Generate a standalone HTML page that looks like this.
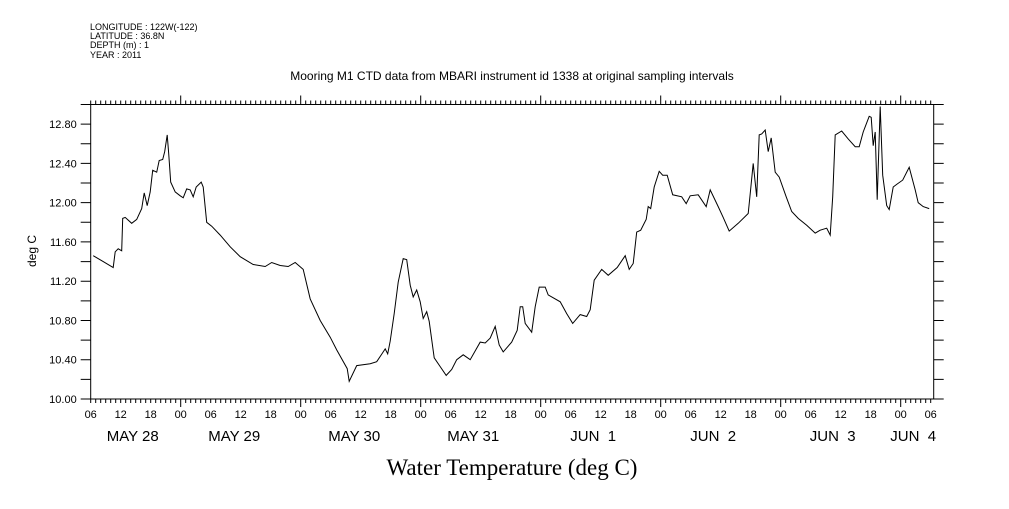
<!DOCTYPE html>
<html><head><meta charset="utf-8"><style>
body{margin:0;background:#fff;}
svg text{font-family:"Liberation Sans",sans-serif;fill:#000;white-space:pre;}
</style></head><body>
<svg id="chart" width="1009" height="504" viewBox="0 0 1009 504" xmlns="http://www.w3.org/2000/svg">
<g font-size="9">
<text x="90" y="30">LONGITUDE : 122W(-122)</text>
<text x="90" y="39">LATITUDE : 36.8N</text>
<text x="90" y="48">DEPTH (m) : 1</text>
<text x="90" y="58">YEAR : 2011</text>
</g>
<text x="512" y="80" text-anchor="middle" font-size="12">Mooring M1 CTD data from MBARI instrument id 1338 at original sampling intervals</text>
<text x="0" y="0" transform="translate(36,251) rotate(-90)" text-anchor="middle" font-size="12">deg C</text>
<text x="512" y="475" text-anchor="middle" font-size="23" style="font-family:'Liberation Serif',serif">Water Temperature (deg C)</text>
<g id="axes"></g>
<path id="line" fill="none" stroke="#000" stroke-width="1" stroke-linejoin="miter"/>
</svg>
<script>
const hours=[0.5,2.5,4.5,4.9,5.5,6.2,6.4,6.9,8.2,9.2,10.2,10.7,11.3,11.9,12.4,13.2,13.7,14.4,14.8,15.3,15.6,16.0,16.9,17.9,18.5,19.2,19.9,20.5,21.1,22.1,22.5,23.2,24.2,25.9,27.9,29.9,32.5,34.9,36.2,37.9,39.5,40.9,42.5,43.9,45.9,47.9,49.2,51.3,51.7,53.2,55.9,57.2,58.9,59.4,59.9,60.7,61.5,62.5,63.2,63.9,64.5,65.2,65.9,66.5,67.2,67.7,68.7,69.9,71.1,72.2,73.2,74.5,75.9,77.9,78.9,79.9,80.9,81.7,82.5,84.2,85.3,85.9,86.4,86.9,88.2,88.9,89.7,90.9,91.5,93.9,95.2,96.4,97.9,99.2,99.9,100.7,102.2,103.5,105.3,106.9,107.7,108.5,109.2,110.0,111.1,111.5,112.0,112.7,113.7,114.4,115.3,116.4,118.2,119.1,119.9,121.5,123.1,123.9,125.5,126.5,127.7,129.5,131.5,131.9,132.5,133.2,133.7,134.2,134.9,135.5,136.1,136.9,137.7,139.1,140.2,141.5,143.2,144.9,145.9,147.2,147.9,148.4,148.9,150.2,151.5,152.9,153.7,154.5,155.7,156.1,156.5,156.9,157.3,157.9,158.4,159.2,159.7,160.5,161.3,162.4,163.7,164.9,165.5,166.5,167.7];
const temps=[11.46,11.40,11.34,11.50,11.53,11.51,11.84,11.85,11.79,11.83,11.94,12.10,11.97,12.11,12.33,12.31,12.43,12.44,12.52,12.69,12.50,12.21,12.11,12.07,12.05,12.14,12.13,12.06,12.16,12.21,12.16,11.80,11.76,11.67,11.55,11.45,11.37,11.35,11.39,11.36,11.35,11.39,11.32,11.02,10.80,10.63,10.50,10.31,10.18,10.34,10.36,10.38,10.51,10.46,10.59,10.87,11.19,11.43,11.42,11.16,11.04,11.11,10.99,10.82,10.89,10.79,10.42,10.33,10.24,10.30,10.40,10.45,10.40,10.58,10.57,10.62,10.74,10.55,10.48,10.58,10.70,10.94,10.94,10.77,10.68,10.94,11.14,11.14,11.06,10.99,10.87,10.77,10.86,10.84,10.91,11.21,11.32,11.26,11.34,11.46,11.32,11.38,11.70,11.72,11.83,11.96,11.94,12.16,12.32,12.28,12.28,12.08,12.06,11.99,12.07,12.08,11.96,12.13,11.96,11.85,11.71,11.79,11.89,12.09,12.40,12.06,12.69,12.70,12.74,12.52,12.66,12.31,12.26,12.06,11.91,11.84,11.77,11.69,11.72,11.74,11.67,12.06,12.69,12.73,12.65,12.57,12.57,12.72,12.88,12.87,12.58,12.72,12.03,12.98,12.28,11.97,11.93,12.16,12.19,12.23,12.36,12.13,12.00,11.96,11.94];
const yTickLabels=["10.00","10.40","10.80","11.20","11.60","12.00","12.40","12.80"];
const hourLabels=["06","12","18","00"];
const dayLabels=["MAY 28","MAY 29","MAY 30","MAY 31","JUN  1","JUN  2","JUN  3","JUN  4"];
const dayLabelHours=[8.4,28.7,52.7,76.5,100.5,124.5,148.4,164.5];

const X0=90.7,X1=933.7,Y0=399,Y1=104.5,HMAX=168.6,TMIN=10,TMAX=13;
const xs=h=>X0+(h/HMAX)*(X1-X0);
const ys=t=>Y0-(t-TMIN)/(TMAX-TMIN)*(Y0-Y1);
const NS='http://www.w3.org/2000/svg';
const axes=document.getElementById('axes');
let d='';
function seg(x1,y1,x2,y2){d+='M'+x1+' '+y1+'L'+x2+' '+y2;}
seg(X0,Y0,X1,Y0);seg(X0,Y1,X1,Y1);seg(X0,Y0,X0,Y1);seg(X1,Y0,X1,Y1);
for(let h=0;h<=HMAX;h++){
  const x=xs(h);const major=((h+6)%24===0);
  seg(x,Y0,x,Y0+(major?8:4));
  seg(x,Y1,x,Y1-(major?9:4));
}
for(let i=0;i<=15;i++){
  const t=TMIN+i*0.2;const y=ys(t);
  seg(X0-10,y,X0,y);seg(X1,y,X1+10,y);
}
const ap=document.createElementNS(NS,'path');


ap.setAttribute('d',d);ap.setAttribute('stroke','#000');ap.setAttribute('fill','none');ap.setAttribute('stroke-width','1');
axes.appendChild(ap);
function txt(x,y,s,size,anchor,name){
  const t=document.createElementNS(NS,'text');
  t.setAttribute('x',x);t.setAttribute('y',y);t.setAttribute('font-size',size);t.setAttribute('text-anchor',anchor);
  t.textContent=s;
  
  
  axes.appendChild(t);
}
yTickLabels.forEach(s=>txt(X0-14,ys(parseFloat(s))+4,s,11,'end','y-tick-label'));
for(let h=0;h<=HMAX;h+=6){txt(xs(h),418,hourLabels[(h/6)%4],11,'middle','x-hour-label');}
dayLabels.forEach((s,i)=>txt(xs(dayLabelHours[i]),441,s,15,'middle','x-day-label'));
let p='';
hours.forEach((h,i)=>{p+=(i?'L':'M')+xs(h).toFixed(1)+' '+ys(temps[i]).toFixed(1);});
document.getElementById('line').setAttribute('d',p);
</script>
</body></html>
